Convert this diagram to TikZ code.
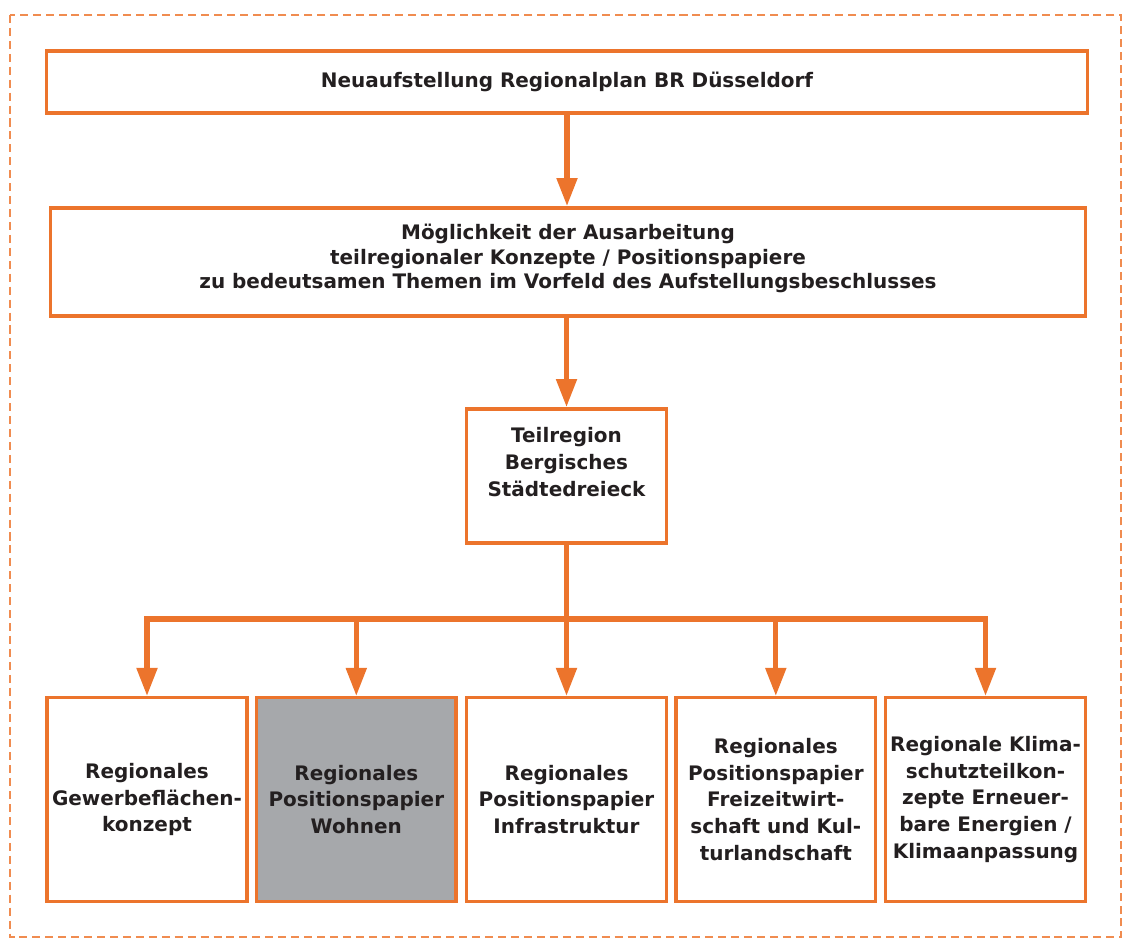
\documentclass[tikz,border=0pt]{standalone}
\usepackage{fontspec}
\setmainfont{DejaVu Sans}
\usepackage{xcolor}
\usetikzlibrary{arrows.meta,positioning}

\definecolor{rporange}{RGB}{236,116,44}
\definecolor{rpdash}{RGB}{240,140,80}
\definecolor{rpgrey}{RGB}{166,168,171}
\definecolor{rptext}{RGB}{35,31,32}

\begin{document}
\begin{tikzpicture}[x=0.025cm, y=-0.025cm,
  box/.style={draw=rporange, line width=2.5pt, align=center, text=rptext,
    font=\bfseries\fontsize{14.2pt}{17.2pt}\selectfont},
  smallbox/.style={box, minimum width=4.99cm, minimum height=5.09cm,
    font=\bfseries\fontsize{14.2pt}{19pt}\selectfont},
  arr/.style={draw=rporange, line width=3.6pt, -{Triangle[width=0.5cm,length=0.7cm]}},
  bar/.style={draw=rporange, line width=3.6pt}]

\useasboundingbox (0,0) rectangle (1122,938);

% frame
\draw[rpdash, line width=1.8pt, dash pattern=on 5.7pt off 3.5pt] (10,15) rectangle (1121.5,937);

% boxes
\node[box, minimum width=26.01cm, minimum height=1.56cm] (plan) at (567,82)
  {Neuaufstellung Regionalplan BR Düsseldorf};
\node[box, minimum width=25.86cm, minimum height=2.71cm, text depth=8pt] (konz) at (568,262)
  {Möglichkeit der Ausarbeitung\\teilregionaler Konzepte / Positionspapiere\\zu bedeutsamen Themen im Vorfeld des Aufstellungsbeschlusses};
\node[box, minimum width=4.99cm, minimum height=3.36cm, text depth=20pt,
  font=\bfseries\fontsize{14.2pt}{19pt}\selectfont] (teil) at (566.5,476)
  {Teilregion\\Bergisches\\Städtedreieck};

\node[smallbox] (gew) at (147,799.5) {Regionales\\Gewerbeflächen-\\konzept};
\node[smallbox, fill=rpgrey] (wohn) at (356.3,799.5) {Regionales\\Positionspapier\\Wohnen};
\node[smallbox] (infra) at (566.5,799.5) {Regionales\\Positionspapier\\Infrastruktur};
\node[smallbox] (frei) at (775.8,799.5) {Regionales\\Positionspapier\\Freizeitwirt-\\schaft und Kul-\\turlandschaft};
\node[smallbox] (klima) at (985.5,799.5) {Regionale Klima-\\schutzteilkon-\\zepte Erneuer-\\bare Energien /\\Klimaanpassung};

% arrows
\draw[arr] (plan.south) -- (plan.south |- konz.north);
\draw[arr] (konz.south -| teil.north) -- (teil.north);
\coordinate (bus) at (566.5,619);
\draw[bar] (teil.south) -- (bus);
\foreach \n in {gew,wohn,infra,frei,klima}
  \draw[arr] (bus) -| (\n.north);

\end{tikzpicture}
\end{document}
